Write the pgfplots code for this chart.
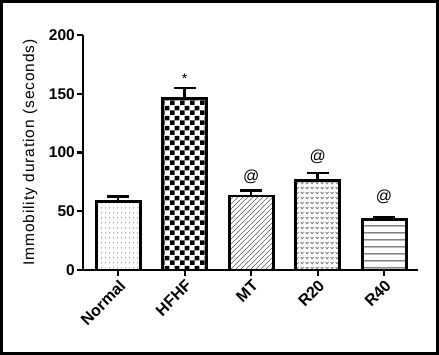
\documentclass[border=0pt]{standalone}
\usepackage{fontspec}
\setmainfont{Liberation Sans}
\newfontfamily\labelfont[LetterSpace=6]{Liberation Sans}
\usepackage{pgfplots}
\pgfplotsset{compat=1.18}
\usetikzlibrary{patterns,patterns.meta}

\tikzdeclarepattern{name=mydots, type=uncolored,
  bottom left={(0pt,0pt)}, top right={(4pt,5pt)}, tile size={(4pt,5pt)},
  code={\fill (2pt,2.5pt) circle (0.7pt);}}
\tikzdeclarepattern{name=mychecker, type=uncolored,
  bottom left={(0pt,0pt)}, top right={(10pt,10pt)}, tile size={(10pt,10pt)},
  code={\fill (0pt,0pt) rectangle (5pt,5pt); \fill (5pt,5pt) rectangle (10pt,10pt);}}
\tikzdeclarepattern{name=mydiag, type=uncolored,
  bottom left={(0pt,0pt)}, top right={(5pt,5pt)}, tile size={(5pt,5pt)},
  code={\draw[line width=0.7pt] (-1pt,-1pt) -- (6pt,6pt);}}
\tikzdeclarepattern{name=myvees, type=uncolored,
  bottom left={(0pt,0pt)}, top right={(5pt,5pt)}, tile size={(5pt,5pt)},
  code={\draw[line width=0.9pt] (0.8pt,3.6pt) -- (2.5pt,1.4pt) -- (4.2pt,3.6pt);}}
\tikzdeclarepattern{name=myhlines, type=uncolored,
  bottom left={(0pt,0pt)}, top right={(7pt,7pt)}, tile size={(7pt,7pt)},
  code={\draw[line width=1pt] (-1pt,3.5pt) -- (8pt,3.5pt);}}

\begin{document}
\begin{tikzpicture}
\begin{axis}[
  at={(83pt,85pt)}, anchor=south west,
  scale only axis, width=335pt, height=235pt,
  xmin=-0.53, xmax=4.51, ymin=0, ymax=200,
  axis lines*=left,
  axis line style={line width=2.6pt, black},
  xtick={0,1,2,3,4},
  xticklabels={Normal,HFHF,MT,R20,R40},
  ytick={0,50,100,150,200},
  tick align=outside,
  major tick length=6pt,
  every tick/.style={line width=2.2pt, black},
  /pgf/number format/assume math mode=true,
  yticklabel style={font=\fontsize{15.5}{17}\selectfont\bfseries, inner sep=2pt},
  xticklabel style={font=\fontsize{16}{18}\selectfont\bfseries, rotate=45, anchor=north east, inner sep=2pt},
  ylabel={Immobility duration (seconds)},
  ylabel style={font=\labelfont\fontsize{15.5}{17}\selectfont, at={(axis description cs:-0.158,0.5)}, anchor=center, rotate=0},
  clip=false,
  ybar, bar width=44pt, bar shift=0pt,
  error bars/y dir=plus, error bars/y explicit,
  error bars/error mark=|,
  error bars/error mark options={mark size=11pt, line width=2.5pt, black},
  error bars/error bar style={line width=2.5pt, black},
]
\addplot[draw=black, line width=2.8pt, fill=white, postaction={pattern=mydots, pattern color=black!55}]
  coordinates {(0,58) +- (0,4.5)};
\addplot[draw=black, line width=2.8pt, fill=white, postaction={pattern=mychecker, pattern color=black}]
  coordinates {(1,146) +- (0,9)};
\addplot[draw=black, line width=2.8pt, fill=white, postaction={pattern=mydiag, pattern color=black!65}]
  coordinates {(2,63) +- (0,4.5)};
\addplot[draw=black, line width=2.8pt, fill=white, postaction={pattern=myvees, pattern color=black!55}]
  coordinates {(3,76) +- (0,6.5)};
\addplot[draw=black, line width=2.8pt, fill=white, postaction={pattern=myhlines, pattern color=black!75}]
  coordinates {(4,43) +- (0,2)};
\node[font=\fontsize{14}{15}\selectfont] at (axis cs:1,163) {*};
\node[font=\fontsize{16}{18}\selectfont] at (axis cs:2,79) {@};
\node[font=\fontsize{16}{18}\selectfont] at (axis cs:3,96) {@};
\node[font=\fontsize{16}{18}\selectfont] at (axis cs:4,62) {@};
\end{axis}
\draw[line width=3pt] (1.5pt,1.5pt) rectangle (437.5pt,353.5pt);
\end{tikzpicture}
\end{document}
